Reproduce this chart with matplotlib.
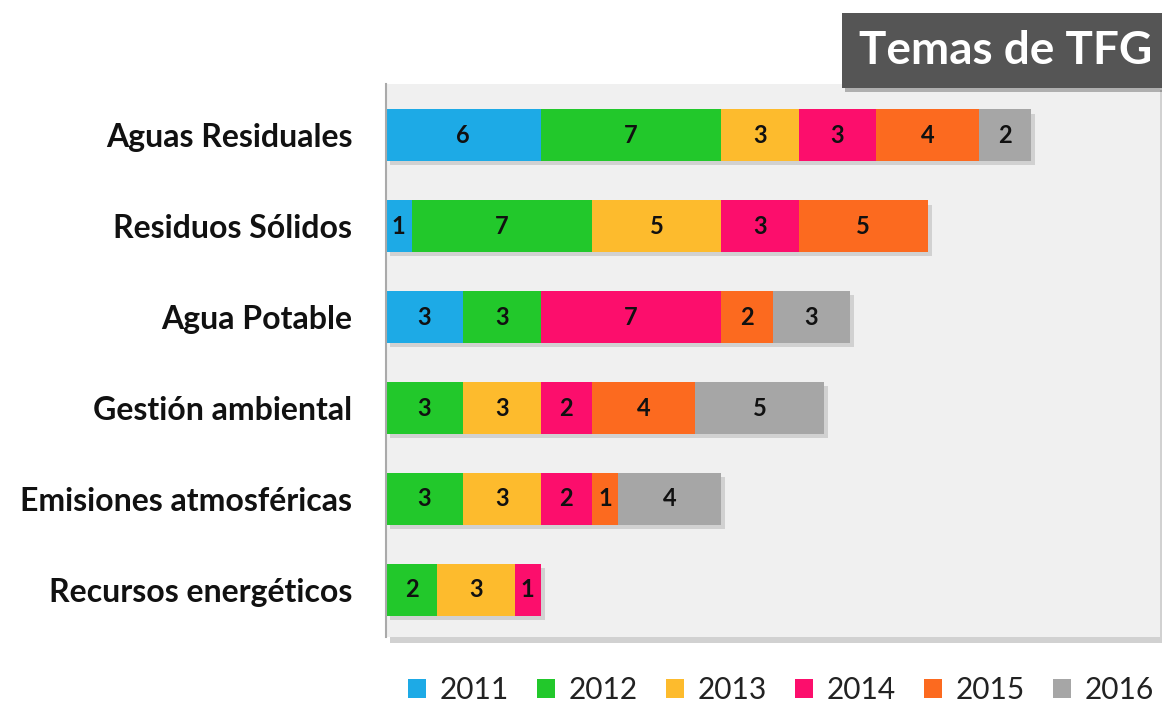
import matplotlib
matplotlib.use("Agg")
import matplotlib.pyplot as plt
import matplotlib.patheffects as pe
from matplotlib.patches import Patch
import numpy as np

plt.rcParams['font.family'] = ['Lato', 'DejaVu Sans']

categorias = ['Aguas Residuales', 'Residuos Sólidos', 'Agua Potable',
              'Gestión ambiental', 'Emisiones atmosféricas', 'Recursos energéticos']
anios = ['2011', '2012', '2013', '2014', '2015', '2016']
v2011 = [6, 1, 3, 0, 0, 0]
v2012 = [7, 7, 3, 3, 3, 2]
v2013 = [3, 5, 0, 3, 3, 3]
v2014 = [3, 3, 7, 2, 2, 1]
v2015 = [4, 5, 2, 4, 1, 0]
v2016 = [2, 0, 3, 5, 4, 0]
colores = ['#1DAAE6', '#22C82B', '#FDBB2D', '#FC0E6C', '#FC6A1F', '#A6A6A6']

series = [v2011, v2012, v2013, v2014, v2015, v2016]

fig = plt.figure(figsize=(11.62, 7.04), dpi=100)
ax = fig.add_axes([0.332, 0.095, 0.666, 0.785])
ax.set_facecolor('#F0F0F0')
ax.patch.set_path_effects([pe.SimplePatchShadow(offset=(3, -4), shadow_rgbFace='#999999', alpha=0.45), pe.Normal()])

y = np.arange(len(categorias))
izq = np.zeros(len(categorias))
sombra = [pe.SimplePatchShadow(offset=(3, -3), shadow_rgbFace='#999999', alpha=0.35), pe.Normal()]
for anio, vals, col in zip(anios, series, colores):
    vals = np.array(vals)
    bars = ax.barh(y, vals, left=izq, height=0.57, color=col, label=anio)
    for b, v, l in zip(bars, vals, izq):
        if v > 0:
            b.set_path_effects(sombra)
            ax.text(l + v / 2, b.get_y() + b.get_height() / 2, str(v),
                    ha='center', va='center', fontsize=17, fontweight='bold', color='#111111')
    izq = izq + vals

ax.set_xlim(0, 30)
ax.set_ylim(5.52, -0.56)
ax.set_yticks(y)
ax.set_yticklabels(categorias, fontsize=23, fontweight='bold', color='#111111')
ax.tick_params(axis='y', length=0, pad=24)
ax.set_xticks([])
for s in ['top', 'right', 'bottom']:
    ax.spines[s].set_visible(False)
ax.spines['left'].set_color('#AAAAAA')
ax.spines['left'].set_linewidth(1.5)

handles = [Patch(facecolor=c, label=a) for a, c in zip(anios, colores)]
fig.legend(handles=handles, loc='center', bbox_to_anchor=(0.672, 0.02), ncol=6, frameon=False,
           fontsize=21.5, handlelength=0.62, handleheight=0.62, handletextpad=0.45,
           columnspacing=0.93, labelcolor='#222222')

fig.text(0.9915, 0.928, 'Temas de TFG', ha='right', va='center', fontsize=33,
         fontweight='bold', color='white',
         bbox=dict(boxstyle='square,pad=0.36', facecolor='#555555', edgecolor='none',
                   path_effects=[pe.SimplePatchShadow(offset=(2, -3), alpha=0.3), pe.Normal()]))

fig.savefig('out.png', dpi=100)
